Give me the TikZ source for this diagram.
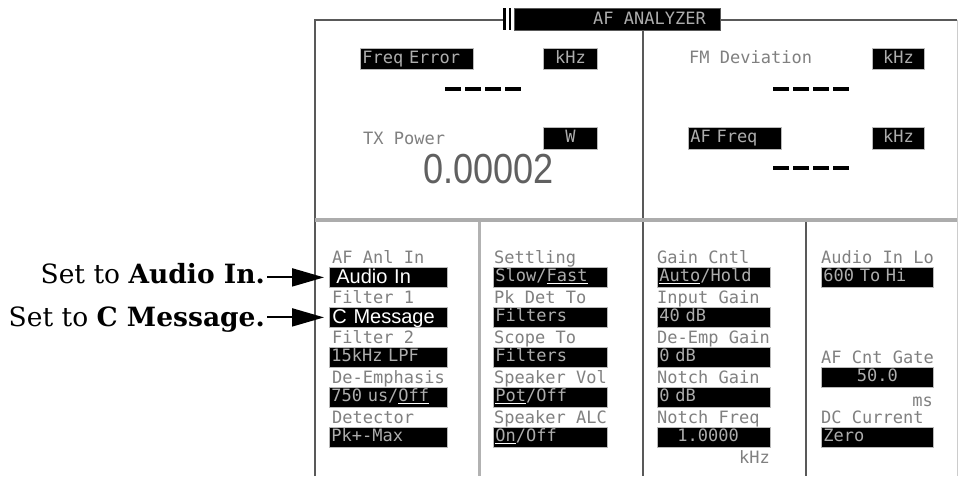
\documentclass[tikz,border=0pt]{standalone}
\usepackage{fontspec}
\setmainfont{DejaVu Serif}
\newfontfamily\scrfont{DejaVu Sans Mono}
\newfontfamily\arialfont{Liberation Sans}
\usetikzlibrary{arrows.meta}
\definecolor{framecol}{gray}{0.35}
\definecolor{lblcol}{gray}{0.5}
\definecolor{boxtxt}{gray}{0.68}
\newcommand\myul[1]{{\color{white}\underline{\color{boxtxt}#1}}}
\newcommand\dashbar{\rule{16pt}{4pt}}
\newcommand\dashes{\dashbar\hspace{4pt}\dashbar\hspace{4pt}\dashbar\hspace{4pt}\dashbar}
\begin{document}
\begin{tikzpicture}[x=1pt,y=-1pt,
  scr/.style={font=\scrfont\fontsize{17}{17}\selectfont},
  lbl/.style={scr, text=lblcol, inner sep=0, anchor=base west, yshift=-6pt},
  lblr/.style={lbl, anchor=base east},
  valbox/.style={scr, fill=black, draw=gray!55, line width=0.8, text=boxtxt,
    inner xsep=2, inner ysep=0, text height=12, text depth=3, minimum height=20, anchor=north west, align=left},
  bigbox/.style={valbox, text=white, font=\arialfont\fontsize{20}{20}\selectfont, text height=14, text depth=2},
  dashnode/.style={inner sep=0, anchor=west},
  frameline/.style={draw=framecol, line width=2.5},
  note/.style={font=\fontsize{26.5}{28}\selectfont, inner sep=0, anchor=base east},
  arr/.style={line width=2, -{Triangle[length=32pt,width=18pt]}, shorten >=5pt, shorten <=2pt}
]
\useasboundingbox (0,0) rectangle (960,476);
\fill[white] (0,0) rectangle (960,476);

% ---------- frame ----------
\draw[frameline] (315,476) -- (315,20) -- (503,20);
\draw[frameline] (720,20) -- (957,20);
\draw[gray!40, line width=1] (957,20) -- (957,476);
\draw[gray!65, line width=4.5] (315,220) -- (957,220);
\draw[frameline] (643,30) -- (643,218);
\draw[gray!60, line width=3] (479,222) -- (479,476);
\draw[frameline] (643,222) -- (643,476);
\draw[frameline] (806,222) -- (806,476);

% ---------- banner ----------
\fill[black] (503,8) rectangle (506,30);
\fill[black] (509,8) rectangle (511,30);
\node[fill=black, draw=framecol, line width=0.8, minimum width=206, minimum height=22, inner sep=0, anchor=north west] (banner) at (514,8) {};
\node[lbl, text=boxtxt] (title) at (593,19) {AF ANALYZER};

% ---------- top left panel ----------
\node[valbox, text width=109, minimum height=21] (freqerr) at (360,48) {Freq Error};
\node[valbox, text width=50, align=center, minimum height=21] (khz1) at (543,48) {kHz};
\node[dashnode] (dash1) at (445,89) {\dashes};
\node[lbl] (txpow) at (363,138) {TX Power};
\node[valbox, text width=50, align=center, minimum height=22] (wunit) at (543,127) {W};
\node[font=\arialfont\fontsize{42}{42}\selectfont, text=gray!75!black, inner sep=0, anchor=base west] (txval) at (423,183) {\scalebox{0.86}[1]{0.00002}};

% ---------- top right panel ----------
\node[lbl] (fmdev) at (689,58) {FM Deviation};
\node[valbox, text width=48, align=center, minimum height=21] (khz2) at (872,48) {kHz};
\node[dashnode] (dash2) at (773,89) {\dashes};
\node[valbox, text width=89, minimum height=22] (affreq) at (688,127) {AF Freq};
\node[valbox, text width=48, align=center, minimum height=22] (khz3) at (872,127) {kHz};
\node[dashnode] (dash3) at (773,168) {\dashes};

% ---------- column 1 ----------
\node[lbl] (c1l1) at (332,257) {AF Anl In};
\node[bigbox, text width=114] (b1) at (329,267) {\hspace{5pt}Audio In};
\node[lbl] (c1l2) at (332,297) {Filter 1};
\node[bigbox, text width=114] (b2) at (329,307) {\hspace{1pt}C Message};
\node[lbl] (c1l3) at (332,337) {Filter 2};
\node[valbox, text width=114] (c1b3) at (329,347) {15kHz LPF};
\node[lbl] (c1l4) at (332,377) {De-Emphasis};
\node[valbox, text width=114] (c1b4) at (329,387) {750 us/\myul{Off}};
\node[lbl] (c1l5) at (332,417) {Detector};
\node[valbox, text width=114] (c1b5) at (329,427) {Pk+-Max};

% ---------- column 2 ----------
\node[lbl] (c2l1) at (494,257) {Settling};
\node[valbox, text width=110] (c2b1) at (493,267) {Slow/\myul{Fast}};
\node[lbl] (c2l2) at (494,297) {Pk Det To};
\node[valbox, text width=110] (c2b2) at (493,307) {Filters};
\node[lbl] (c2l3) at (494,337) {Scope To};
\node[valbox, text width=110] (c2b3) at (493,347) {Filters};
\node[lbl] (c2l4) at (494,377) {Speaker Vol};
\node[valbox, text width=110] (c2b4) at (493,387) {\myul{Pot}/Off};
\node[lbl] (c2l5) at (494,417) {Speaker ALC};
\node[valbox, text width=110] (c2b5) at (493,427) {\myul{On}/Off};

% ---------- column 3 ----------
\node[lbl] (c3l1) at (657,257) {Gain Cntl};
\node[valbox, text width=109] (c3b1) at (657,267) {\myul{Auto}/Hold};
\node[lbl] (c3l2) at (657,297) {Input Gain};
\node[valbox, text width=109] (c3b2) at (657,307) {40 dB};
\node[lbl] (c3l3) at (657,337) {De-Emp Gain};
\node[valbox, text width=109] (c3b3) at (657,347) {0 dB};
\node[lbl] (c3l4) at (657,377) {Notch Gain};
\node[valbox, text width=109] (c3b4) at (657,387) {0 dB};
\node[lbl] (c3l5) at (657,417) {Notch Freq};
\node[valbox, text width=109] (c3b5) at (657,427) {\hspace{18pt}1.0000};
\node[lblr] (c3u) at (770,457) {kHz};

% ---------- column 4 ----------
\node[lbl] (c4l1) at (821,257) {Audio In Lo};
\node[valbox, text width=108] (c4b1) at (821,267) {600 To Hi};
\node[lbl] (c4l2) at (821,357) {AF Cnt Gate};
\node[valbox, text width=108, align=center] (c4b2) at (821,367) {50.0};
\node[lblr] (c4u) at (933,400) {ms};
\node[lbl] (c4l3) at (821,417) {DC Current};
\node[valbox, text width=108] (c4b3) at (821,427) {Zero};

% ---------- annotations ----------
\node[note] (a1) at (265,283) {Set to \textbf{Audio In.}};
\node[note] (a2) at (265,326) {Set to \textbf{C Message.}};
\draw[arr] (a1.east |- b1.west) -- (b1.west);
\draw[arr] (a2.east |- b2.west) -- (b2.west);
\end{tikzpicture}
\end{document}
